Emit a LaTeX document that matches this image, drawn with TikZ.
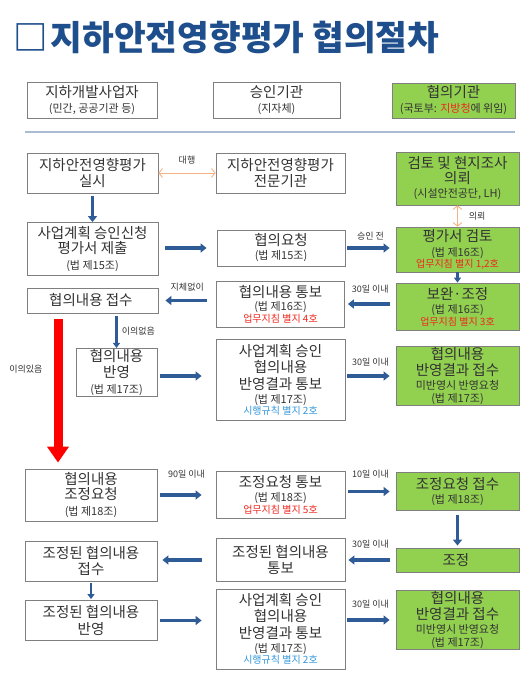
\documentclass[tikz,border=0pt]{standalone}
\usepackage{fontspec}
\setmainfont{Noto Sans CJK KR}
\usetikzlibrary{arrows.meta}
\definecolor{titleblue}{HTML}{1F4E8C}
\definecolor{flowblue}{HTML}{2F5C96}
\definecolor{okgreen}{HTML}{92D050}
\definecolor{edgegray}{HTML}{7F7F7F}
\definecolor{inkgray}{HTML}{333333}
\definecolor{notered}{HTML}{F0281E}
\definecolor{noteblue}{HTML}{3498DB}
\definecolor{peach}{HTML}{F4B183}
\definecolor{rulegray}{HTML}{A9BCD3}
\newcommand{\law}[1]{{\fontsize{11}{13}\selectfont #1}}
\newcommand{\guide}[1]{{\fontsize{10}{12}\selectfont\color{notered}#1}}
\newcommand{\decree}[1]{{\fontsize{10}{12}\selectfont\color{noteblue}#1}}
\tikzset{
  box/.style={draw=edgegray, line width=0.8pt, fill=white, align=center,
    text=inkgray, font=\fontsize{14.5}{16.5}\selectfont, inner sep=1pt},
  okbox/.style={box, fill=okgreen},
  flow/.style={draw=flowblue, line width=3.5pt, -{Triangle[width=9pt,length=6pt]}},
  slim/.style={line width=2.5pt, -{Triangle[width=7pt,length=5pt]}},
  agent/.style={draw=peach, line width=0.9pt,
    {Straight Barb[length=3.5pt,width=9pt]}-{Straight Barb[length=3.5pt,width=9pt]}},
  alarm/.style={draw=red, line width=9pt, -{Triangle[width=21pt,length=16pt]}},
  tag/.style={font=\fontsize{9}{10}\selectfont, text=inkgray, inner sep=1pt}
}
\begin{document}
\begin{tikzpicture}[x=1pt,y=-1pt]
  \useasboundingbox (0,0) rectangle (528,674);
  \node [anchor=west, inner sep=0pt, text=titleblue,
    font=\fontsize{34.5}{40}\selectfont\bfseries] (0) at (13,37) { □\kern3pt 지하안전영향평가 협의절차 };
  % header
  \node [box, minimum width=130pt, minimum height=36pt] (01) at (92,100)
    { 지하개발사업자\\[-1.5pt]\law{(민간, 공공기관 등)} };
  \node [box, minimum width=127pt, minimum height=36pt] (02) at (276.5,100)
    { 승인기관\\[-1.5pt]\law{(지자체)} };
  \node [okbox, minimum width=123pt, minimum height=35pt] (03) at (453.5,100.5)
    { 협의기관\\[-1.5pt]\law{(국토부: {\color{notered}지방청}에 위임)} };
  \draw [rulegray, line width=1.5pt] (25,132) -- (515,132);
  % review request
  \node [box, minimum width=131pt, minimum height=40pt] (11) at (92.5,173)
    { 지하안전영향평가\\실시 };
  \node [box, minimum width=129pt, minimum height=40pt] (12) at (280.5,173)
    { 지하안전영향평가\\전문기관 };
  \node [okbox, minimum width=123pt, minimum height=53pt] (13) at (457.5,178.5)
    { 검토 및 현지조사\\[-1.5pt]의뢰\\[-2.5pt]\law{(시설안전공단, LH)} };
  \node [box, minimum width=131pt, minimum height=53pt] (21) at (92.5,249)
    { 사업계획 승인신청\\[-1.5pt]평가서 제출\\[-1pt]\law{(법 제15조)} };
  \node [box, minimum width=128pt, minimum height=36pt] (22) at (281,248)
    { 협의요청\\[-2.5pt]\law{(법 제15조)} };
  \node [okbox, minimum width=123pt, minimum height=45pt] (23) at (457.5,249.5)
    { 평가서 검토\\[-2pt]\law{(법 제16조)}\\[-5pt]\guide{업무지침 별지 1,2호} };
  \node [box, minimum width=131pt, minimum height=25pt] (31) at (92.5,300.5)
    { 협의내용 접수 };
  \node [box, minimum width=128pt, minimum height=46pt] (32) at (280.5,304)
    { 협의내용 통보\\[-3pt]\law{(법 제16조)}\\[-5pt]\guide{업무지침 별지 4호} };
  \node [okbox, minimum width=123pt, minimum height=47pt] (33) at (457.5,306.5)
    { 보완·조정\\[-2.5pt]\law{(법 제16조)}\\[-4.5pt]\guide{업무지침 별지 3호} };
  \node [box, minimum width=81pt, minimum height=45pt] (41) at (116.5,372.5)
    { 협의내용\\반영\\[-1pt]\law{(법 제17조)} };
  \node [box, minimum width=129pt, minimum height=81pt] (42) at (280.5,380)
    { 사업계획 승인\\협의내용\\반영결과 통보\\[-2.5pt]\law{(법 제17조)}\\[-5pt]\decree{시행규칙 별지 2호} };
  \node [okbox, minimum width=123pt, minimum height=58pt] (43) at (457.5,376)
    { 협의내용\\반영결과 접수\\[-2.5pt]\law{미반영시 반영요청}\\[-3.5pt]\law{(법 제17조)} };
  % adjustment
  \node [box, minimum width=132pt, minimum height=52pt] (51) at (91,495)
    { 협의내용\\[-1.5pt]조정요청\\[-1pt]\law{(법 제18조)} };
  \node [box, minimum width=129pt, minimum height=47pt] (52) at (280.5,495)
    { 조정요청 통보\\[-2.5pt]\law{(법 제18조)}\\[-5pt]\guide{업무지침 별지 5호} };
  \node [okbox, minimum width=123pt, minimum height=38pt] (53) at (457.5,491.5)
    { 조정요청 접수\\[-2.5pt]\law{(법 제18조)} };
  \node [box, minimum width=132pt, minimum height=40pt] (61) at (91,561)
    { 조정된 협의내용\\접수 };
  \node [box, minimum width=129pt, minimum height=43pt] (62) at (280.5,560)
    { 조정된 협의내용\\통보 };
  \node [okbox, minimum width=123pt, minimum height=24pt] (63) at (457.5,560)
    { 조정 };
  \node [box, minimum width=132pt, minimum height=40pt] (71) at (91,620.5)
    { 조정된 협의내용\\반영 };
  \node [box, minimum width=129pt, minimum height=80pt] (72) at (280.5,629)
    { 사업계획 승인\\협의내용\\반영결과 통보\\[-2.5pt]\law{(법 제17조)}\\[-5pt]\decree{시행규칙 별지 2호} };
  \node [okbox, minimum width=123pt, minimum height=56pt] (73) at (457.5,620)
    { 협의내용\\반영결과 접수\\[-2.5pt]\law{미반영시 반영요청}\\[-3.5pt]\law{(법 제17조)} };
  % connectors
  \draw [ agent ] (11) to node [tag, above=7pt] {대행} (12);
  \draw [ agent ] (13) to node [tag, right=10pt] {의뢰} (23);
  \draw [ flow, shorten <=3pt ] (11) to (21);
  \draw [ flow, shorten <=7pt, shorten >=10pt ] (21.east |- 22) to (22);
  \draw [ flow, shorten <=2pt, shorten >=6pt ] (22) to node [tag, above=5pt] {승인 전} (22 -| 23.west);
  \draw [ flow, slim ] (23) to (33);
  \draw [ flow, shorten <=9pt, shorten >=7pt ] (31 -| 32.west) to node [tag, above=7pt] {지체없이} (31);
  \draw [ flow, shorten <=6pt, shorten >=3pt ] (32 -| 33.west) to node [tag, above=8pt] {30일 이내} (32);
  \draw [ flow, slim, shorten <=3pt ] (31.south -| 41.north) to node [tag, right=3pt] {이의없음} (41);
  \draw [ alarm, shorten <=6pt, shorten >=6pt ] ([xshift=-34.5pt]31.south) to
    node [tag, left=10pt, pos=0.36] {이의있음} ([xshift=-33pt]51.north);
  \draw [ flow, shorten <=3pt, shorten >=14pt ] (41.east |- 43) to (42.west |- 43);
  \draw [ flow, shorten <=2pt, shorten >=6pt ] (43 -| 42.east) to node [tag, above=7pt] {30일 이내} (43);
  \draw [ flow, shorten <=3pt, shorten >=14pt ] (51) to node [tag, above=14pt] {90일 이내} (51 -| 52.west);
  \draw [ flow, shorten <=3pt, shorten >=6pt ] (53 -| 52.east) to node [tag, above=11pt] {10일 이내} (53);
  \draw [ flow, shorten <=4pt, shorten >=2pt ] (53) to (63);
  \draw [ flow, shorten <=14pt, shorten >=5pt ] (62) to (62 -| 61.east);
  \draw [ flow, shorten <=6pt, shorten >=3pt ] (63) to node [tag, above=9pt] {30일 이내} (63 -| 62.east);
  \draw [ flow, slim, shorten <=2pt, shorten >=1pt ] (61) to (71);
  \draw [ flow, shorten <=3pt, shorten >=14pt ] (71) to (71 -| 72.west);
  \draw [ flow, shorten <=2pt, shorten >=6pt ] (73 -| 72.east) to node [tag, above=9pt] {30일 이내} (73);
\end{tikzpicture}
\end{document}
